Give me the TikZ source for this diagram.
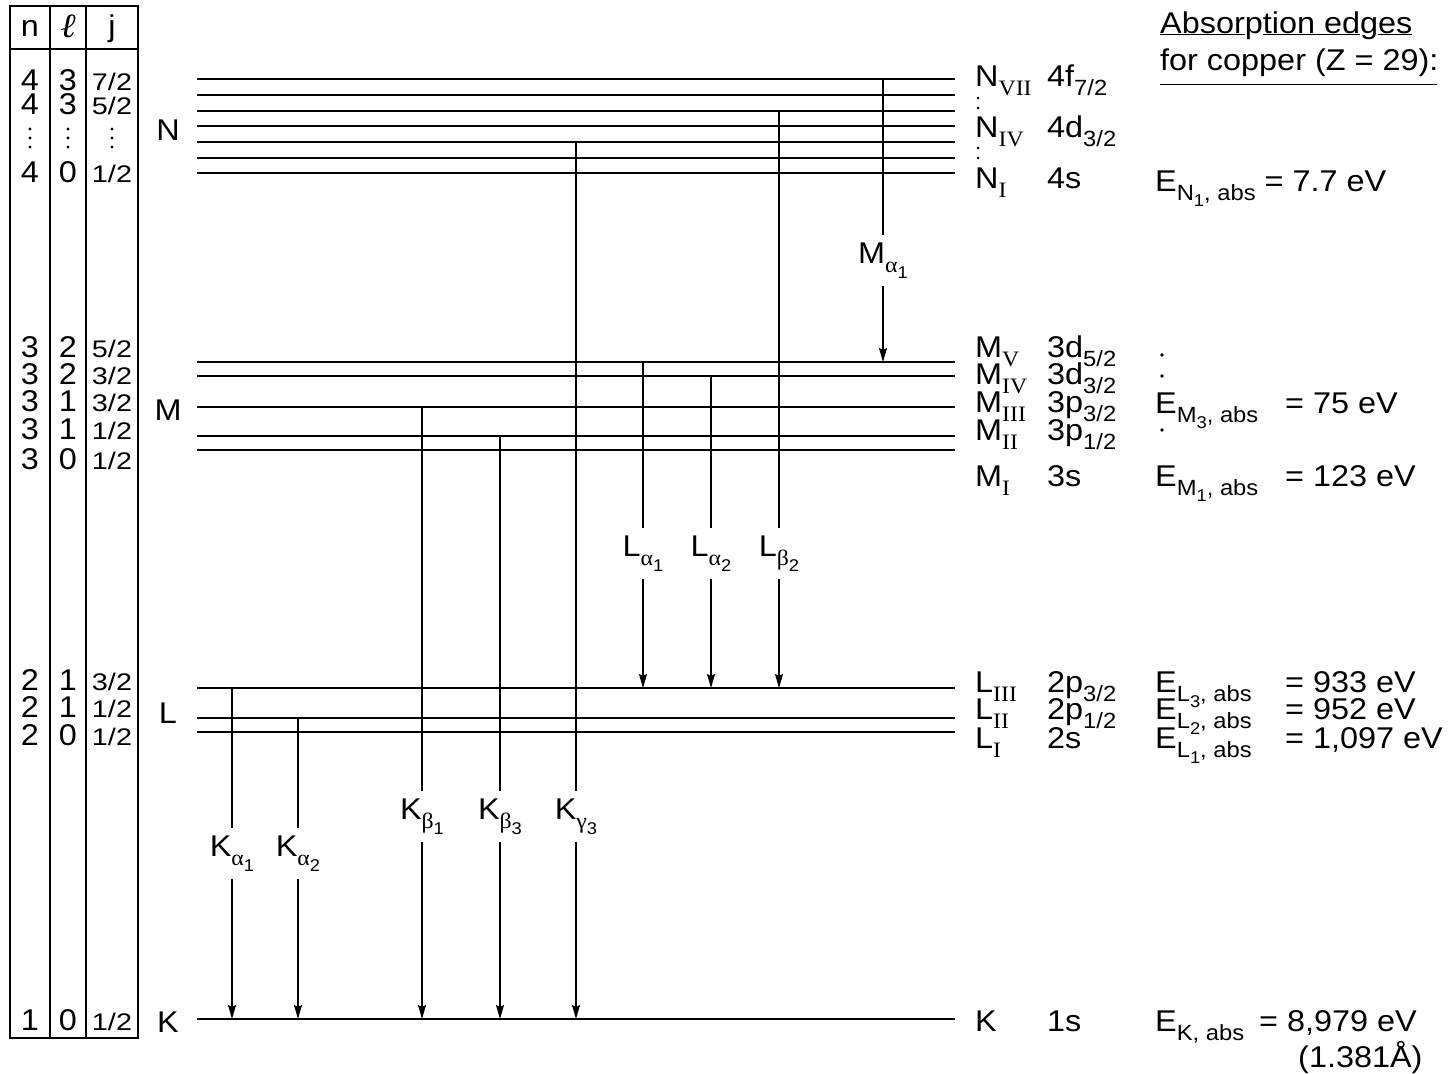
\documentclass[tikz,border=0pt]{standalone}
\usepackage{fontspec}
\setmainfont{Liberation Sans}[FakeStretch=1.08]
\newfontfamily\fracfont{Liberation Sans}[FakeStretch=1.2]
\newfontfamily\rmserif{Liberation Serif}[FakeStretch=1.08]
\usetikzlibrary{arrows.meta}

% lowered indices
\newcommand{\idx}[1]{\raisebox{-0.3em}{\fontsize{22}{22}\selectfont #1}}
\newcommand{\idxx}[1]{\raisebox{-0.3em}{\fontsize{17}{17}\selectfont #1}}
\newcommand{\rmidx}[1]{\idx{\rmserif #1}}
\newcommand{\gidx}[2]{\idx{{\rmserif #1}\idxx{#2}}}

\begin{document}
\begin{tikzpicture}[x=1pt, y=-1pt,
        every node/.style = {inner sep=0pt, font=\fontsize{30}{34}\selectfont},
        level/.style = {line width=1.7pt},
        grid/.style = {line width=1.2pt},
        trans/.style = {line width=1.3pt},
        emit/.style = {trans, -{Stealth[length=14pt, width=8pt, inset=2pt]}},
        tlabel/.style = {anchor=base, inner ysep=7pt},
        cell/.style = {anchor=base, font=\fontsize{30}{30}\selectfont},
        jcell/.style = {anchor=base, font=\fracfont\fontsize{24}{24}\selectfont},
        lab/.style = {anchor=base west}
    ]
        \useasboundingbox (0,0) rectangle (1449,1074);

        % Quantum number table
        \draw[grid] (10,6) rectangle (138,1038);
        \draw[grid] (50,6) -- (50,1038) (86,6) -- (86,1038) (10,49) -- (138,49);
        \node[cell] (hn) at (30,36) {n};
        \node[cell] (hl) at (68,37) {\rmserif\itshape\fontsize{34}{34}\selectfont ℓ};
        \node[cell] (hj) at (112,36) {j};
        \foreach \yy/\nn/\ll/\jj in {90/4/3/{7/2}, 114/4/3/{5/2}, 182/4/0/{1/2},
                357/3/2/{5/2}, 384/3/2/{3/2}, 411/3/1/{3/2}, 439/3/1/{1/2}, 469/3/0/{1/2},
                690/2/1/{3/2}, 717/2/1/{1/2}, 745/2/0/{1/2}, 1030/1/0/{1/2}} {
            \node[cell] (n\yy) at (30,\yy) {\nn};
            \node[cell] (l\yy) at (68,\yy) {\ll};
            \node[jcell] (j\yy) at (112,\yy) {\jj};
        }
        \foreach \xx in {30,68,112}
            \foreach \yy in {129,138,147}
                \fill (\xx,\yy) circle (1.7pt);

        % Shells
        \node[anchor=base] (shN) at (168,140) {N};
        \node[anchor=base] (shM) at (168,420) {M};
        \node[anchor=base] (shL) at (168,723) {L};
        \node[anchor=base] (shK) at (168,1032) {K};

        % Energy levels
        \foreach \nm/\yy in {N7/79, N6/95, N5/111, N4/126, N3/142, N2/158, N1/173,
                M5/362, M4/376, M3/407, M2/436, M1/450, L3/688, L2/718, L1/732, K/1019} {
            \coordinate (\nm) at (197,\yy);
            \draw[level] (\nm) -- ++(758,0);
        }

        % Level names and orbitals
        \foreach \nm/\yy/\sh/\orb in {N7/86/{N\rmidx{VII}}/{4f\idx{7/2}},
                N4/137/{N\rmidx{IV}}/{4d\idx{3/2}}, N1/188/{N\rmidx{I}}/{4s},
                M5/357/{M\rmidx{V}}/{3d\idx{5/2}}, M4/384/{M\rmidx{IV}}/{3d\idx{3/2}},
                M3/412/{M\rmidx{III}}/{3p\idx{3/2}}, M2/440/{M\rmidx{II}}/{3p\idx{1/2}},
                M1/486/{M\rmidx{I}}/{3s}, L3/692/{L\rmidx{III}}/{2p\idx{3/2}},
                L2/719/{L\rmidx{II}}/{2p\idx{1/2}}, L1/748/{L\rmidx{I}}/{2s},
                K/1031/{K}/{1s}} {
            \node[lab] (s\nm) at (975,\yy) {\sh};
            \node[lab] (o\nm) at (1047,\yy) {\orb};
        }
        \foreach \yy in {98,108,148,158}
            \fill (978,\yy) circle (1.5pt);

        % Absorption edges
        \node[lab] (hdrA) at (1160,33) {\underline{Absor}p\underline{tion ed}g\underline{es}};
        \node[lab] (hdrB) at (1160,70) {for copper (Z = 29):};
        \draw[grid] (hdrB.south west) ++(0,8) -- ++(277,0);
        \node[lab] (eN1) at (1155,191) {E\idx{N\idxx{1}, abs} = 7.7 eV};
        \foreach \yy in {355,376,430}
            \fill (1162,\yy) circle (1.8pt);
        \node[lab] (eM3) at (1155,413) {E\idx{M\idxx{3}, abs}};
        \node[lab] (vM3) at (1285,413) {= 75 eV};
        \node[lab] (eM1) at (1155,486) {E\idx{M\idxx{1}, abs}};
        \node[lab] (vM1) at (1285,486) {= 123 eV};
        \node[lab] (eL3) at (1155,692) {E\idx{L\idxx{3}, abs}};
        \node[lab] (vL3) at (1285,692) {= 933 eV};
        \node[lab] (eL2) at (1155,719) {E\idx{L\idxx{2}, abs}};
        \node[lab] (vL2) at (1285,719) {= 952 eV};
        \node[lab] (eL1) at (1155,748) {E\idx{L\idxx{1}, abs}};
        \node[lab] (vL1) at (1285,748) {= 1,097 eV};
        \node[lab] (eK) at (1155,1031) {E\idx{K, abs}\hspace{6pt} = 8,979 eV};
        \node[lab] (wK) at (1298,1067) {(1.381Å)};

        % Transition labels
        \node[tlabel] (Ma1) at (883,263) {M\gidx{α}{1}};
        \node[tlabel] (La1) at (643,556) {L\gidx{α}{1}};
        \node[tlabel] (La2) at (711,556) {L\gidx{α}{2}};
        \node[tlabel] (Lb2) at (779,556) {L\gidx{β}{2}};
        \node[tlabel] (Kb1) at (422,819) {K\gidx{β}{1}};
        \node[tlabel] (Kb3) at (500,819) {K\gidx{β}{3}};
        \node[tlabel] (Kg3) at (576,819) {K\gidx{γ}{3}};
        \node[tlabel] (Ka1) at (232,856) {K\gidx{α}{1}};
        \node[tlabel] (Ka2) at (298,856) {K\gidx{α}{2}};

        % Transitions
        \foreach \tr/\from/\to in {Ma1/N7/M5, La1/M5/L3, La2/M4/L3, Lb2/N5/L3,
                Kb1/M3/K, Kb3/M2/K, Kg3/N3/K, Ka1/L3/K, Ka2/L2/K} {
            \draw[trans] (\tr |- \from) -- (\tr.north);
            \draw[emit] (\tr.south) -- (\tr |- \to);
        }

    \end{tikzpicture}
\end{document}
